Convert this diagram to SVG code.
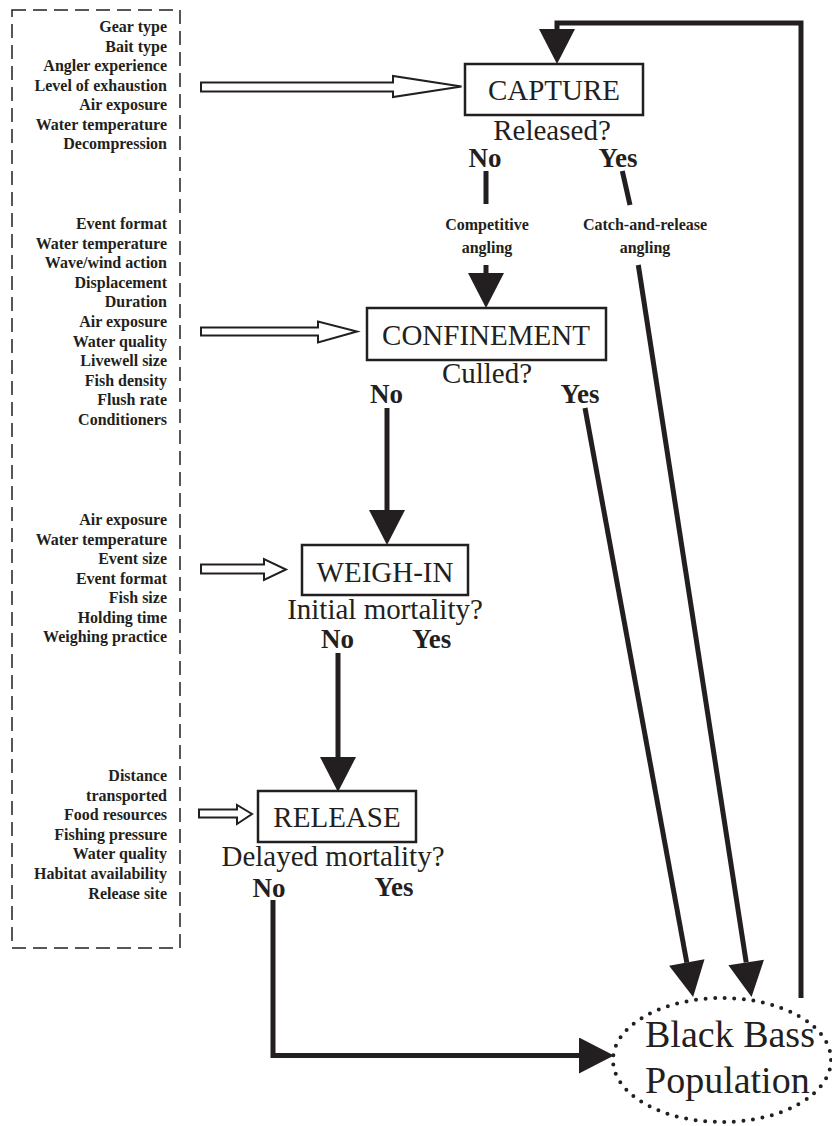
<svg xmlns="http://www.w3.org/2000/svg" width="832" height="1126" viewBox="0 0 832 1126">
<style>
.t{font-family:"Liberation Serif","Times New Roman",serif;fill:#231f20}
.big{font-size:29px;text-anchor:middle}
.yn{font-size:27px;font-weight:bold;text-anchor:middle}
.lab{font-size:16px;font-weight:bold;text-anchor:middle}
.lst{font-size:16px;font-weight:bold;text-anchor:end}
.box{fill:#fff;stroke:#231f20;stroke-width:2.5}
.con{fill:none;stroke:#231f20;stroke-width:5}
.hol{fill:#fff;stroke:#231f20;stroke-width:2;stroke-linejoin:miter}
</style>
<defs>
<marker id="ah" markerUnits="userSpaceOnUse" markerWidth="36" markerHeight="36" viewBox="0 0 34 35" refX="0" refY="17.5" orient="auto">
<path d="M0,0 L34,17.5 L0,35 Z" fill="#231f20"/>
</marker>
</defs>
<rect width="832" height="1126" fill="#fff"/>

<g id="factors">
<rect x="12" y="10" width="168" height="938" fill="none" stroke="#231f20" stroke-width="1.5" stroke-dasharray="14 7"/>
<g id="capture-factors" class="t lst">
<text x="167" y="32">Gear type</text>
<text x="167" y="51.5">Bait type</text>
<text x="167" y="71">Angler experience</text>
<text x="167" y="90.5">Level of exhaustion</text>
<text x="167" y="110">Air exposure</text>
<text x="167" y="129.5">Water temperature</text>
<text x="167" y="149">Decompression</text>
</g>
<g id="confinement-factors" class="t lst">
<text x="167" y="229">Event format</text>
<text x="167" y="248.6">Water temperature</text>
<text x="167" y="268.2">Wave/wind action</text>
<text x="167" y="287.8">Displacement</text>
<text x="167" y="307.4">Duration</text>
<text x="167" y="327">Air exposure</text>
<text x="167" y="346.6">Water quality</text>
<text x="167" y="366.2">Livewell size</text>
<text x="167" y="385.8">Fish density</text>
<text x="167" y="405.4">Flush rate</text>
<text x="167" y="425">Conditioners</text>
</g>
<g id="weighin-factors" class="t lst">
<text x="167" y="525">Air exposure</text>
<text x="167" y="544.5">Water temperature</text>
<text x="167" y="564">Event size</text>
<text x="167" y="583.5">Event format</text>
<text x="167" y="603">Fish size</text>
<text x="167" y="622.5">Holding time</text>
<text x="167" y="642">Weighing practice</text>
</g>
<g id="release-factors" class="t lst">
<text x="167" y="781">Distance</text>
<text x="167" y="800.6">transported</text>
<text x="167" y="820.2">Food resources</text>
<text x="167" y="839.8">Fishing pressure</text>
<text x="167" y="859.4">Water quality</text>
<text x="167" y="879">Habitat availability</text>
<text x="167" y="898.6">Release site</text>
</g>
</g>

<g id="connectors">
<polygon class="hol" points="201,82.5 393,82.5 393,76 461.5,86.5 393,97 393,91.5 201,91.5"/>
<polygon class="hol" points="201,327.5 318,327.5 318,321.5 357,331.5 318,342.5 318,335.5 201,335.5"/>
<polygon class="hol" points="201,564.5 264,564.5 264,559 286,569.5 264,580 264,573.5 201,573.5"/>
<polygon class="hol" points="199,809.5 237,809.5 237,805 252,814 237,824 237,817.5 199,817.5"/>

<polyline class="con" points="801,998 801,23 557,23 557,29" stroke-linejoin="miter" marker-end="url(#ah)"/>
<line class="con" x1="486" y1="171" x2="486" y2="204"/>
<line class="con" x1="622.3" y1="171" x2="630" y2="205"/>
<line class="con" x1="486" y1="265" x2="486" y2="273" marker-end="url(#ah)"/>
<line class="con" x1="638.3" y1="265" x2="746.2" y2="962.4" marker-end="url(#ah)"/>
<line class="con" x1="585" y1="408" x2="686.8" y2="962.6" marker-end="url(#ah)"/>
<line class="con" x1="387" y1="408" x2="387" y2="510" marker-end="url(#ah)"/>
<line class="con" x1="338" y1="653" x2="338" y2="757" marker-end="url(#ah)"/>
<polyline class="con" points="273,900 273,1055.5 579,1055.5" stroke-linejoin="miter" marker-end="url(#ah)"/>
</g>

<g id="capture">
<rect class="box" x="465" y="64" width="178" height="51"/>
<text class="t big" x="554" y="100">CAPTURE</text>
<text class="t big" x="552" y="140">Released?</text>
<text class="t yn" x="485" y="167">No</text>
<text class="t yn" x="618" y="167">Yes</text>
</g>
<g id="competitive-label">
<text class="t lab" x="487" y="230">Competitive</text>
<text class="t lab" x="487" y="253">angling</text>
</g>
<g id="catch-release-label">
<text class="t lab" x="645" y="230">Catch-and-release</text>
<text class="t lab" x="645" y="253">angling</text>
</g>

<g id="confinement">
<rect class="box" x="367" y="308" width="239" height="52"/>
<text class="t big" x="486" y="345">CONFINEMENT</text>
<text class="t big" x="487" y="383">Culled?</text>
<text class="t yn" x="386.5" y="403">No</text>
<text class="t yn" x="580" y="403">Yes</text>
</g>

<g id="weigh-in">
<rect class="box" x="302" y="545" width="166" height="50"/>
<text class="t big" x="385" y="582">WEIGH-IN</text>
<text class="t big" x="385" y="619">Initial mortality?</text>
<text class="t yn" x="337.5" y="648">No</text>
<text class="t yn" x="431.7" y="648">Yes</text>
</g>

<g id="release">
<rect class="box" x="258" y="791" width="158" height="51"/>
<text class="t big" x="337" y="827">RELEASE</text>
<text class="t big" x="333" y="866">Delayed mortality?</text>
<text class="t yn" x="269" y="897">No</text>
<text class="t yn" x="394" y="896">Yes</text>
</g>

<g id="black-bass-population">
<ellipse cx="722" cy="1060" rx="109" ry="62" fill="none" stroke="#231f20" stroke-width="4" stroke-linecap="round" stroke-dasharray="0 9.6"/>
<text class="t" x="645" y="1047" font-size="38">Black Bass</text>
<text class="t" x="645" y="1093" font-size="38">Population</text>
</g>
</svg>
